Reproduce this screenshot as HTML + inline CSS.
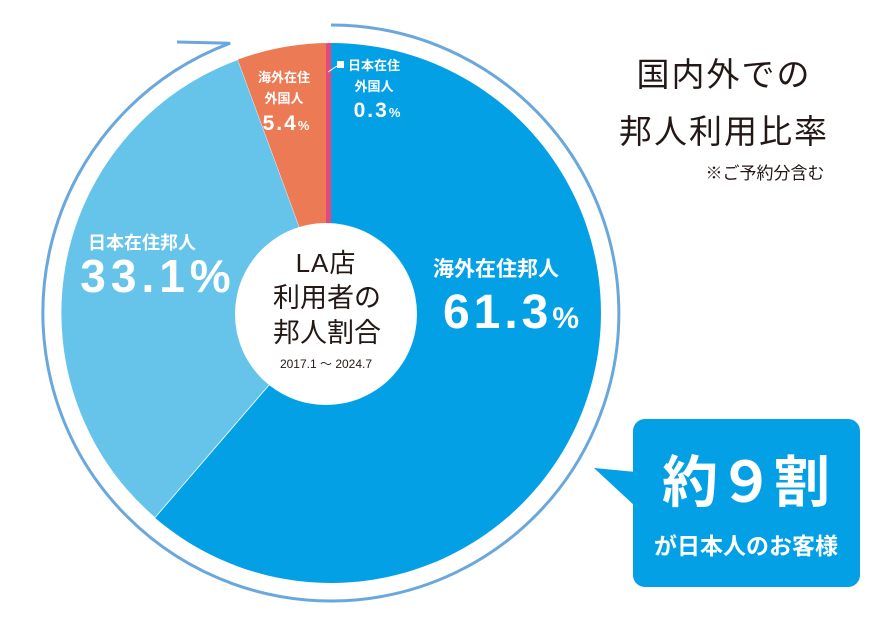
<!DOCTYPE html>
<html><head><meta charset="utf-8"><style>
body{margin:0;background:#fff;}
svg text{font-family:"Liberation Sans","Noto Sans CJK JP",sans-serif;}
</style></head><body>
<svg width="891" height="626" viewBox="0 0 891 626" xmlns="http://www.w3.org/2000/svg">
<rect width="891" height="626" fill="#fff"/>
<path d="M331,25 A288,288 0 1 1 230.1,43.2 L177,42" fill="none" stroke="#6aa8dc" stroke-width="3"/>
<path d="M331,313 L331,43 A270,270 0 1 1 154.9,517.7 Z" fill="#04a0e6"/>
<path d="M331,313 L154.9,517.7 A270,270 0 0 1 237.8,59.6 Z" fill="#66c4ea" stroke="#fff" stroke-width="0.8"/>
<path d="M331,313 L237.8,59.6 A270,270 0 0 1 327.2,43 Z" fill="#ec7a55"/>
<path d="M331,313 L327.2,43 A270,270 0 0 1 331,43 Z" fill="#e5487a"/>
<line x1="328" y1="44" x2="328" y2="313" stroke="#e5487a" stroke-width="4"/>
<circle cx="326" cy="314" r="91" fill="#fff"/>
<text x="326" y="272" font-size="26" text-anchor="middle" fill="#231815" letter-spacing="1">LA店</text>
<text x="327" y="307" font-size="27" text-anchor="middle" fill="#231815">利用者の</text>
<text x="327" y="342" font-size="27" text-anchor="middle" fill="#231815">邦人割合</text>
<text x="326" y="368" font-size="12" text-anchor="middle" fill="#231815">2017.1 ～ 2024.7</text>
<text x="142" y="249" font-size="18" font-weight="bold" text-anchor="middle" fill="#fff">日本在住邦人</text>
<text x="158" y="292" font-size="46" font-weight="bold" text-anchor="middle" fill="#fff" letter-spacing="5">33.1%</text>
<text x="496" y="276" font-size="21" font-weight="bold" text-anchor="middle" fill="#fff">海外在住邦人</text>
<text x="511" y="328" font-size="48" font-weight="bold" text-anchor="middle" fill="#fff" letter-spacing="4">61.3<tspan font-size="30" letter-spacing="0">%</tspan></text>
<text x="284" y="82" font-size="13" font-weight="bold" text-anchor="middle" fill="#fff">海外在住</text>
<text x="284" y="103" font-size="13" font-weight="bold" text-anchor="middle" fill="#fff">外国人</text>
<text x="286" y="130" font-size="21" font-weight="bold" text-anchor="middle" fill="#fff" letter-spacing="2">5.4<tspan font-size="13" letter-spacing="0">%</tspan></text>
<line x1="328" y1="72" x2="337" y2="66" stroke="#fff" stroke-width="1"/>
<rect x="337" y="61" width="7" height="7" fill="#fff"/>
<text x="374" y="70" font-size="13" font-weight="bold" text-anchor="middle" fill="#fff">日本在住</text>
<text x="374" y="91" font-size="13" font-weight="bold" text-anchor="middle" fill="#fff">外国人</text>
<text x="377" y="117" font-size="21" font-weight="bold" text-anchor="middle" fill="#fff" letter-spacing="2">0.3<tspan font-size="13" letter-spacing="0">%</tspan></text>
<text x="724" y="86" font-size="33" text-anchor="middle" fill="#231815" letter-spacing="2">国内外での</text>
<text x="724" y="143" font-size="33" text-anchor="middle" fill="#231815" letter-spacing="2">邦人利用比率</text>
<text x="765" y="179" font-size="17" text-anchor="middle" fill="#231815">※ご予約分含む</text>
<rect x="633" y="419" width="227" height="168" rx="12" fill="#04a0e6"/>
<path d="M594,468 L636,472 L636,507 Z" fill="#04a0e6"/>
<text x="746" y="502" font-size="56" font-weight="bold" text-anchor="middle" fill="#fff">約９割</text>
<text x="746" y="554" font-size="23" font-weight="bold" text-anchor="middle" fill="#fff">が日本人のお客様</text>
</svg>
</body></html>
